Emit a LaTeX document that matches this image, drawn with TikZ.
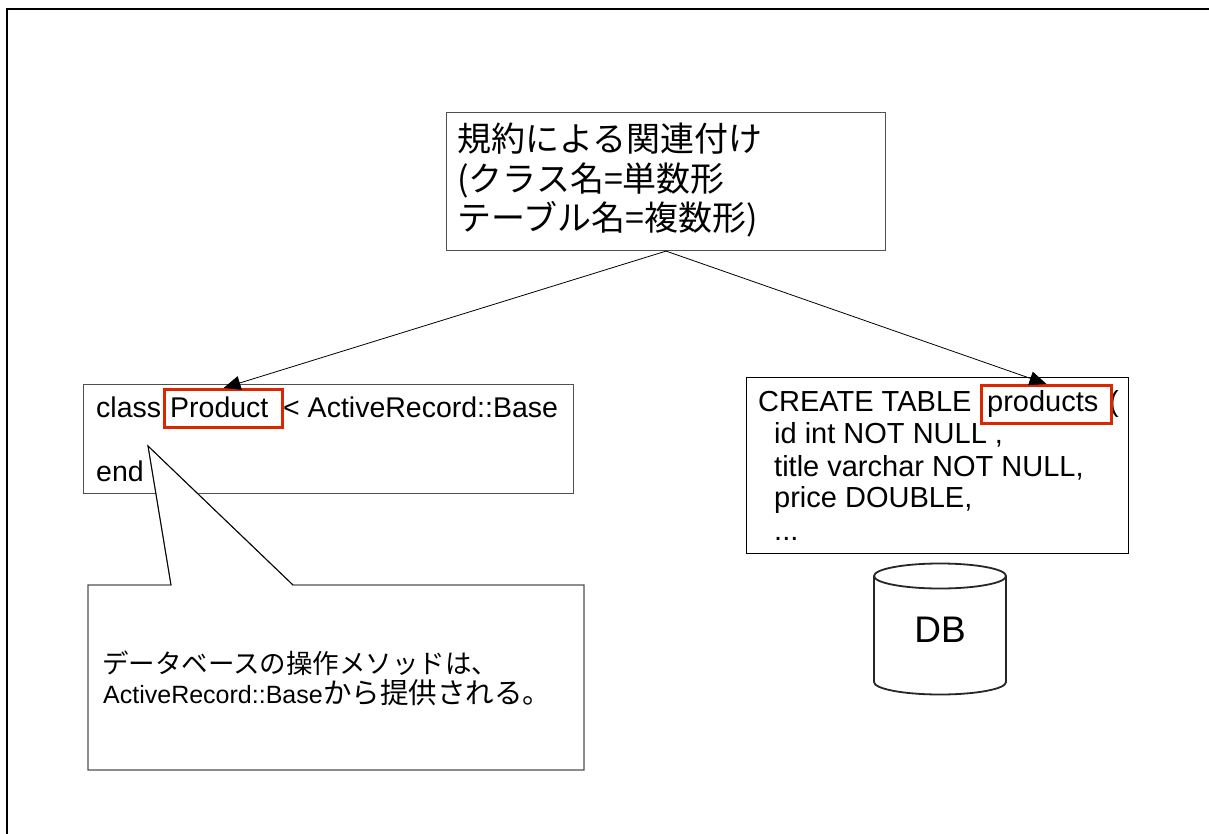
\documentclass[tikz,border=0pt]{standalone}
\usepackage{fontspec}
\setmainfont{Liberation Sans}
\newfontfamily\jp{Noto Sans CJK JP}
\usetikzlibrary{arrows.meta}
\definecolor{hlred}{RGB}{221,38,0}
\definecolor{boxline}{RGB}{80,80,80}
\tikzset{
  box/.style={draw=boxline, line width=1.1pt, fill=white, inner sep=0pt, anchor=north west},
  hlbox/.style={draw=hlred, line width=3pt, inner sep=0pt, anchor=north west},
  code/.style={font=\fontsize{29}{32}\selectfont, inner sep=0pt, anchor=base west},
  lcode/.style={font=\fontsize{28.5}{32}\selectfont, inner sep=0pt, anchor=base west},
  jptitle/.style={font=\jp\fontsize{34}{39}\selectfont, inner sep=0pt, anchor=base west},
  conn/.style={line width=0.8pt, -{Triangle[length=17pt,width=14pt]}},
  thin/.style={line width=0.8pt, draw=black},
  dbline/.style={line width=1.8pt, draw=black!85},
}
\begin{document}
\begin{tikzpicture}[x=1pt,y=1pt]
\useasboundingbox (0,0) rectangle (1209,-834);
% outer frame (only top and left visible)
\draw[line width=2.2pt] (7,-840) -- (7,-9) -- (1215,-9);

% top box
\node[box, minimum width=439, minimum height=138] (top) at (446,-112) {};
\node[jptitle] (t1) at (457,-152) {規約による関連付け};
\node[jptitle] (t2) at (457,-192) {(クラス名=単数形};
\node[jptitle] (t3) at (457,-231) {テーブル名=複数形)};

% left class box
\node[box, minimum width=490, minimum height=109] (cls) at (83,-384) {};
\node[lcode] (c1) at (96,-417) {class};
\node[lcode] (c2) at (170,-417) {Product};
\node[lcode] (c3) at (283,-417) {< ActiveRecord::Base};
\node[lcode] (c4) at (96,-481) {end};
\node[hlbox, minimum width=118, minimum height=38] (prod) at (163,-388) {};

% right table box
\node[box, draw=black, minimum width=382, minimum height=176] (tbl) at (746,-377) {};
\node[code] (s1) at (758,-411) {CREATE TABLE};
\node[code] (s2) at (987,-411) {products};
\node[code] (s3) at (1109,-411) {(};
\node[code] (s4) at (774,-443) {id int NOT NULL ,};
\node[code] (s5) at (774,-476) {title varchar NOT NULL,};
\node[code] (s6) at (774,-507) {price DOUBLE,};
\node[code] (s7) at (774,-540) {...};
\node[hlbox, minimum width=130, minimum height=38] (prods) at (980,-384) {};

% connectors
\draw[conn] (top.south) -- (prod.north);
\draw[conn] (top.south) -- (prods.north);

% callout
\coordinate (tip) at (148,-446);
\draw[thin, draw=boxline, fill=white, line width=1.1pt, line join=miter]
  (88,-585) -- (171,-585) -- (tip) -- (293,-585) -- (584,-585) -- (584,-770) -- (88,-770) -- cycle;
\draw[thin] (171,-585) -- (tip) -- (293,-585);
\node[inner sep=0pt, anchor=base west, font=\jp\fontsize{26.5}{30}\selectfont] (n1) at (102,-673) {データベースの操作メソッドは、};
\node[inner sep=0pt, anchor=base west, font=\fontsize{25}{30}\selectfont] (n2) at (103,-703) {ActiveRecord::Base};
\node[inner sep=0pt, anchor=base west, font=\jp\fontsize{28.5}{30}\selectfont] (n3) at (n2.base east) {から提供される。};

% DB cylinder
\draw[dbline, fill=white] (874,-576) -- (874,-682)
  arc[start angle=180, end angle=360, x radius=66, y radius=12.5]
  -- (1006,-576)
  arc[start angle=0, end angle=180, x radius=66, y radius=12.5] -- cycle;
\draw[dbline] (874,-576) arc[start angle=180, end angle=360, x radius=66, y radius=12.5];
\node[inner sep=0pt, anchor=base, font=\fontsize{37}{40}\selectfont] (db) at (940,-642) {DB};
\end{tikzpicture}
\end{document}
